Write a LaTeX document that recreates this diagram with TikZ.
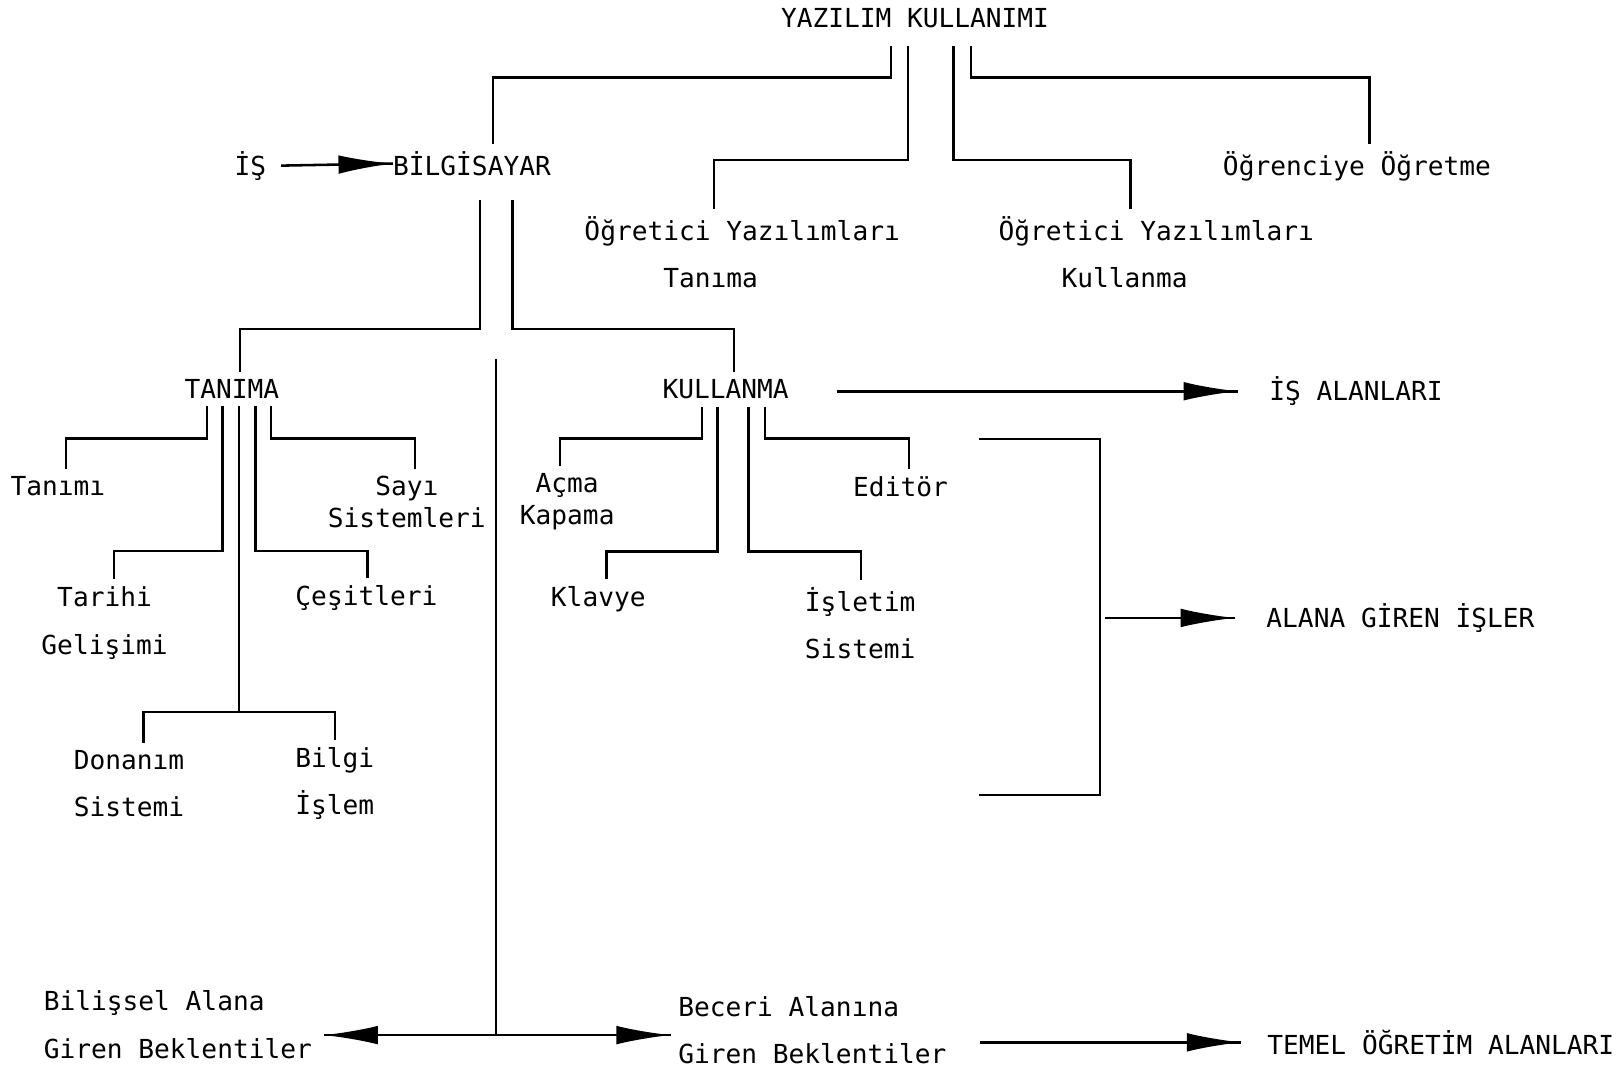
\documentclass[tikz,border=0pt]{standalone}
\usepackage{fontspec}
\setmainfont{DejaVu Sans Mono}
\usetikzlibrary{calc,arrows.meta,decorations.markings}
\tikzset{lbl/.style = {font=\fontsize{14.4}{26}\selectfont, inner sep=0pt},
         twoline/.style = {lbl, align=left},
         tightline/.style = {lbl, align=center, font=\fontsize{14.4}{17.6}\selectfont},
         branch/.style = {line width=1.3pt},
         bigarrow/.style = {line width=1.4pt, decoration={markings, mark=at position 1 with {\arrow{Latex[length=1.05cm,width=0.36cm]}}}, postaction={decorate}}}

\begin{document}
\begin{tikzpicture}[x=0.02cm, y=-0.02cm]
\useasboundingbox (0,0) rectangle (1568,1032);
\node[lbl] (yk) at (884,18) {YAZILIM KULLANIMI};
\node[lbl] (is) at (242,160) {İŞ};
\node[lbl] (bilg) at (456,158) {BİLGİSAYAR};
\node[twoline] (ogyt) at (717,244) {Öğretici Yazılımları\\\hspace*{3.01em}Tanıma};
\node[twoline] (ogyk) at (1117,244) {Öğretici Yazılımları\\\hspace*{2.408em}Kullanma};
\node[lbl] (ogr) at (1311,161) {Öğrenciye Öğretme};
\node[lbl] (tan) at (224,376) {TANIMA};
\node[lbl] (kul) at (701,376) {KULLANMA};
\node[lbl] (isal) at (1310,378) {İŞ ALANLARI};
\node[lbl] (tnm) at (56,470) {Tanımı};
\node[tightline] (sayi) at (393,485) {Sayı\\Sistemleri};
\node[twoline, align=center] (tarihi) at (101,602) {Tarihi\\Gelişimi};
\node[lbl] (cesit) at (354,578) {Çeşitleri};
\node[tightline] (acma) at (548,485) {Açma\\Kapama};
\node[lbl] (editor) at (870,470) {Editör};
\node[lbl] (klavye) at (578,579) {Klavye};
\node[twoline] (isletim) at (831,602) {İşletim\\Sistemi};
\node[lbl] (alana) at (1353,597) {ALANA GİREN İŞLER};
\node[twoline, anchor=west] (donanim) at (71,757) {Donanım\\Sistemi};
\node[twoline, anchor=west] (bilgi) at (285,757) {Bilgi\\İşlem};
\node[twoline, anchor=west] (bilissel) at (42,990) {Bilişsel Alana\\Giren Beklentiler};
\node[twoline, anchor=west] (beceri) at (655,995) {Beceri Alanına\\Giren Beklentiler};
\node[lbl] (temel) at (1392,1007) {TEMEL ÖĞRETİM ALANLARI};

\draw[branch] ($(yk.south)+(-23,17)$) -- ++(0,30) -| ($(bilg.north)+(20,-7)$);
\draw[branch] ($(yk.south)+(-7,17)$) -- ++(0,110) -| ($(ogyt.north)+(-27,-7)$);
\draw[branch] ($(yk.south)+(37,17)$) -- ++(0,110) -| ($(ogyk.north)+(-25,-7)$);
\draw[branch] ($(yk.south)+(54,17)$) -- ++(0,30) -| ($(ogr.north)+(12,-7)$);
\draw[bigarrow] ($(is.east)+(14,0)$) -- (bilg.west);

\draw[branch] ($(bilg.south)+(8,23)$) -- ++(0,125) -| ($(tan.north)+(8,-7)$);
\draw[branch] ($(bilg.south)+(39,23)$) -- ++(0,125) -| ($(kul.north)+(8,-7)$);

\draw[branch] ($(tan.south)+(-24,7)$) -- ++(0,31) -| ($(tnm.north)+(8,-7)$);
\draw[branch] ($(tan.south)+(-9,7)$) -- ++(0,140) -| ($(tarihi.north)+(9,-7)$);
\draw[branch] ($(tan.south)+(7,7)$) -- ++(0,295) coordinate (hub);
\draw[branch] ($(donanim.north)+(14,-7)$) |- (hub) -| ($(bilgi.north)+(0,-7)$);
\draw[branch] ($(tan.south)+(23,7)$) -- ++(0,140) -| ($(cesit.north)+(1,-7)$);
\draw[branch] ($(tan.south)+(38,7)$) -- ++(0,31) -| ($(sayi.north)+(8,-7)$);

\draw[branch] ($(kul.south)+(-23,7)$) -- ++(0,31) -| ($(acma.north)+(-7,-7)$);
\draw[branch] ($(kul.south)+(-8,7)$) -- ++(0,140) -| ($(klavye.north)+(8,-7)$);
\draw[branch] ($(kul.south)+(22,7)$) -- ++(0,140) -| ($(isletim.north)+(1,-7)$);
\draw[branch] ($(kul.south)+(38,7)$) -- ++(0,31) -| ($(editor.north)+(8,-7)$);
\draw[bigarrow] ($(kul.east)+(46,2)$) -- ($(isal.west)+(-30,0)$);

\coordinate (brtop) at (946,424);
\coordinate (brmid) at (1063,597);
\coordinate (brbot) at (946,768);
\draw[branch] (brtop) -| (brmid) |- (brbot);
\draw[bigarrow] ($(brmid)+(5,0)$) -- ($(alana.west)+(-30,0)$);

\coordinate (split) at (479,347);
\coordinate (fork) at (479,1000);
\draw[branch] (split) -- (fork);
\draw[bigarrow] (fork) -- ($(bilissel.east |- fork)+(11,0)$);
\draw[bigarrow] (fork) -- ($(beceri.west |- fork)+(-7,0)$);
\draw[bigarrow] ($(beceri.east |- temel)+(32,0)$) -- ($(temel.west)+(-25,0)$);
\end{tikzpicture}
\end{document}
